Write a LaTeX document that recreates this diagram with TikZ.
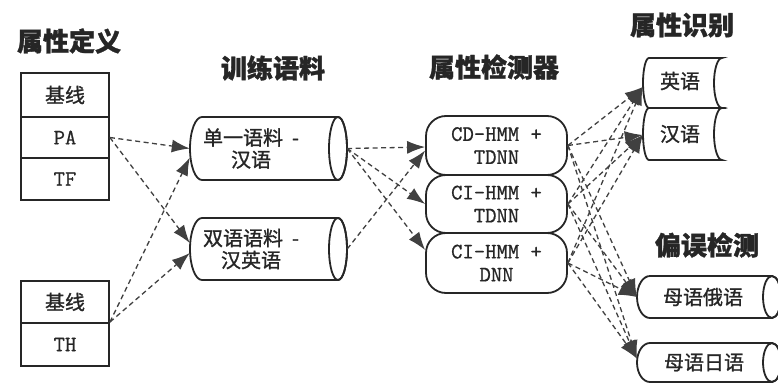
\documentclass[tikz,border=0pt]{standalone}
\usepackage{fontspec}
\newfontfamily\cjk{Noto Sans CJK SC}[FakeBold=1.2]
\setmonofont{Latin Modern Mono}[FakeBold=0.8]
\usetikzlibrary{arrows.meta}
\begin{document}
\begin{tikzpicture}[x=1pt,y=1pt,
  >={Latex[length=18pt,width=13pt]},
  ln/.style={draw=black!85, line width=1.8pt},
  cell/.style={ln, minimum width=88pt, inner sep=0pt, fill=white, text=black!85, font=\cjk\fontsize{20}{22}\selectfont},
  latin/.style={font=\ttfamily\fontsize{22}{24}\selectfont},
  ttl/.style={inner sep=0pt, text=black!85, font=\cjk\bfseries\fontsize{26}{28}\selectfont},
  txt/.style={inner sep=0pt, align=center, text=black!85, font=\cjk\fontsize{20}{22}\selectfont},
  shapebox/.style={inner sep=0pt},
  det/.style={ln, rounded corners=20pt, minimum width=141pt, inner sep=0pt, align=center, fill=white, text=black!85, font=\ttfamily\fontsize{22}{23}\selectfont},
  conn/.style={draw=black!75, line width=1.3pt, dash pattern=on 5pt off 3.5pt, ->},
]
\useasboundingbox[fill=white] (0,0) rectangle (778,-385);

% titles
\node[ttl] (t1) at (69,-41) {属性定义};
\node[ttl] (t2) at (273,-68) {训练语料};
\node[ttl] (t3) at (494,-67) {属性检测器};
\node[ttl] (t4) at (682,-25) {属性识别};
\node[ttl] (t5) at (707,-245) {偏误检测};

% attribute definition boxes
\node[cell, minimum height=44pt] (b1) at (65,-95) {基线};
\node[cell, latin, minimum height=41pt] (pa) at (65,-137.5) {PA};
\node[cell, latin, minimum height=42pt] (tf) at (65,-179) {TF};
\node[cell, minimum height=42pt] (b2) at (65,-302) {基线};
\node[cell, latin, minimum height=43pt] (th) at (65,-344.5) {TH};

% training corpora (cylinders)
\draw[ln, fill=white] (202,-117) -- (338,-117) arc[start angle=90,end angle=-90,x radius=9,y radius=31.5]
  -- (202,-180) arc[start angle=270,end angle=90,x radius=12,y radius=31.5] -- cycle;
\draw[ln] (338,-148.5) ellipse[x radius=9,y radius=31.5];
\node[shapebox, minimum width=157pt, minimum height=63pt] (c1) at (268.5,-148.5) {};
\node[txt] (c1t) at (251,-148.5) {单一语料~~-\\汉语};

\draw[ln, fill=white] (202,-218) -- (338,-218) arc[start angle=90,end angle=-90,x radius=9,y radius=31]
  -- (202,-280) arc[start angle=270,end angle=90,x radius=12,y radius=31] -- cycle;
\draw[ln] (338,-249) ellipse[x radius=9,y radius=31];
\node[shapebox, minimum width=157pt, minimum height=62pt] (c2) at (268.5,-249) {};
\node[txt] (c2t) at (251,-249) {双语语料~~-\\汉英语};

% detectors
\node[det, minimum height=59pt] (det1) at (496.5,-145.5) {CD-HMM +\\TDNN};
\node[det, minimum height=58pt] (det2) at (496.5,-204) {CI-HMM +\\TDNN};
\node[det, minimum height=60pt] (det3) at (496.5,-263) {CI-HMM +\\DNN};

% attribute recognition (stored data shapes)
\draw[ln, fill=white] (649,-58) -- (722,-58) arc[start angle=90,end angle=270,x radius=8,y radius=25]
  -- (649,-108) arc[start angle=270,end angle=90,x radius=6,y radius=25] -- cycle;
\draw[ln, fill=white] (649,-108) -- (722,-108) arc[start angle=90,end angle=270,x radius=8,y radius=26]
  -- (649,-160) arc[start angle=270,end angle=90,x radius=6,y radius=26] -- cycle;
\node[txt, minimum width=74pt, minimum height=50pt] (en) at (680,-81) {英语};
\node[txt, minimum width=74pt, minimum height=52pt] (zh) at (680,-134) {汉语};

% error detection (cylinders)
\draw[ln, fill=white] (650,-276) -- (772,-276) arc[start angle=90,end angle=-90,x radius=9,y radius=21]
  -- (650,-318) arc[start angle=270,end angle=90,x radius=13,y radius=21] -- cycle;
\draw[ln] (772,-297) ellipse[x radius=9,y radius=21];
\draw[ln, fill=white] (650,-343) -- (772,-343) arc[start angle=90,end angle=-90,x radius=9,y radius=19.5]
  -- (650,-382) arc[start angle=270,end angle=90,x radius=13,y radius=19.5] -- cycle;
\draw[ln] (772,-362.5) ellipse[x radius=9,y radius=19.5];
\node[txt, minimum width=132pt, minimum height=42pt] (ru) at (703,-297) {母语俄语};
\node[txt, minimum width=134pt, minimum height=39pt] (ja) at (704,-362.5) {母语日语};

% connectors
\draw[conn] (pa.east) -- (c1.west);
\draw[conn] (pa.east) -- ([yshift=6pt]c2.west);
\draw[conn] (th.north east) -- ([yshift=-9pt]c1.west);
\draw[conn] (th.north east) -- ([yshift=-4pt]c2.west);

\draw[conn] (c1.east) -- ([yshift=-1.5pt]det1.west);
\draw[conn] (c1.east) -- (det2.west);
\draw[conn] (c1.east) -- ([yshift=13pt]det3.west);
\draw[conn] (c2.east) -- ([yshift=-5pt]det1.west);

\foreach \d in {det1,det2,det3}{
  \draw[conn] (\d.east) -- ([yshift=-6pt]en.west);
  \draw[conn] (\d.east) -- ([yshift=-1pt]zh.west);
  \draw[conn] (\d.east) -- (ru.west);
  \draw[conn] (\d.east) -- ([yshift=4pt]ja.west);
}
\end{tikzpicture}
\end{document}
